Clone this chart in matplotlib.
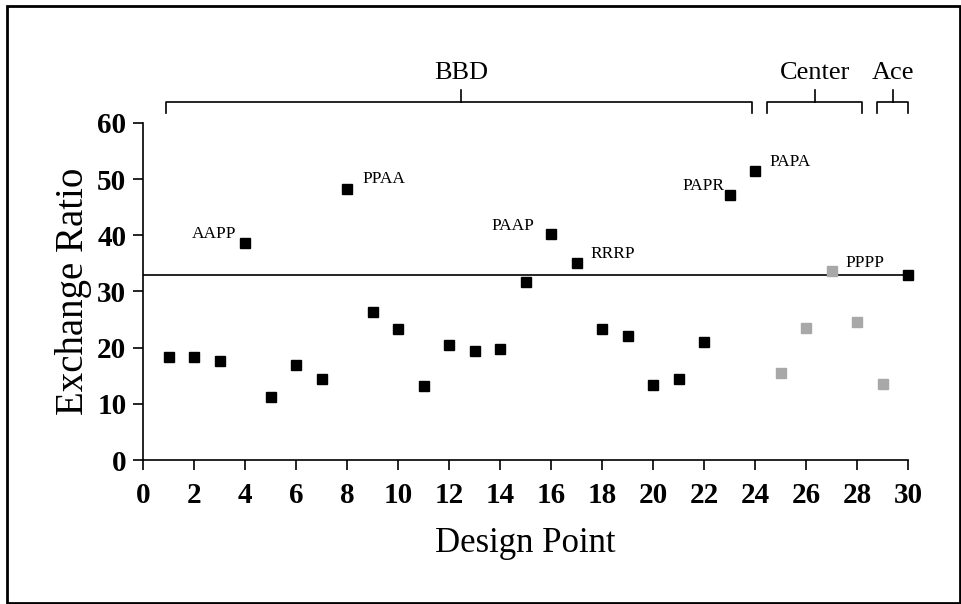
import numpy as np
import matplotlib.pyplot as plt
from matplotlib.patches import Rectangle

plt.rcParams["font.family"] = ["Liberation Serif", "DejaVu Serif"]

# design points and exchange ratios
design_point = np.arange(1, 31)
exchange_ratio = [18.4, 18.3, 17.6, 38.6, 11.3, 16.9, 14.5, 48.3, 26.4, 23.4,
                  13.2, 20.5, 19.4, 19.8, 31.7, 40.2, 35.0, 23.3, 22.1, 13.3,
                  14.4, 21.0, 47.2, 51.4, 15.5, 23.5, 33.7, 24.6, 13.5, 32.9]
# center points (25-29) drawn in gray
gray_points = [25, 26, 27, 28, 29]
ref_value = 33.0

# labelled points: (design point, label, dx px, dy px, ha)
labels = [
    (4, "AAPP", -9, 9, "right"),
    (8, "PPAA", 15, 10, "left"),
    (16, "PAAP", -17, 8, "right"),
    (17, "RRRP", 14, 9, "left"),
    (23, "PAPR", -5, 9, "right"),
    (24, "PAPA", 14, 9, "left"),
    (27, "PPPP", 14, 8, "left"),
]

# group brackets: (label, x start, x end, x of center tick)
groups = [
    ("BBD", 0.9, 23.9, 12.46),
    ("Center", 24.47, 28.2, 26.35),
    ("Ace", 28.78, 30.0, 29.41),
]

df_x = np.array(design_point)
df_y = np.array(exchange_ratio)
is_gray = np.isin(df_x, gray_points)

fig = plt.figure(figsize=(9.62, 6.04), dpi=100)
ax = fig.add_axes([0.1487, 0.2384, 0.7952, 0.558])

ax.plot([0, 30], [ref_value, ref_value], color="black", lw=1.2, zorder=1)
ax.plot(df_x[~is_gray], df_y[~is_gray], "s", color="black", ms=7.8,
        zorder=3, clip_on=False)
ax.plot(df_x[is_gray], df_y[is_gray], "s", color="#a8a8a8", ms=6.5,
        zorder=3, clip_on=False)

for dp, txt, dx, dy, ha in labels:
    ax.annotate(txt, (dp, exchange_ratio[dp - 1]), xytext=(dx, dy),
                textcoords="offset pixels", ha=ha, va="center", fontsize=12.5)

# brackets above the plot
for name, x0, x1, xc in groups:
    ax.plot([x0, x0, x1, x1], [61.7, 63.8, 63.8, 61.7], color="black",
            lw=1.2, clip_on=False)
    ax.plot([xc, xc], [63.8, 65.8], color="black", lw=1.2, clip_on=False)
    ax.text(xc, 67.8, name, ha="center", va="baseline", fontsize=19)

ax.set_xlim(0, 30)
ax.set_ylim(0, 60)
ax.set_xticks(np.arange(0, 31, 2))
ax.set_yticks(np.arange(0, 61, 10))
ax.tick_params(axis="both", labelsize=21, length=7, width=1.2, direction="out")
ax.tick_params(axis="x", pad=9)
ax.tick_params(axis="y", pad=5)
for lab in ax.get_xticklabels() + ax.get_yticklabels():
    lab.set_fontweight("bold")
ax.spines["top"].set_visible(False)
ax.spines["right"].set_visible(False)
ax.spines["left"].set_linewidth(1.2)
ax.spines["bottom"].set_linewidth(1.2)

ax.set_xlabel("Design Point", fontsize=25, labelpad=13)
ax.set_ylabel("Exchange Ratio", fontsize=28, labelpad=4)

fig.patches.append(Rectangle((7 / 962, 1 / 604), 953 / 962, 597 / 604,
                             transform=fig.transFigure, fill=False,
                             edgecolor="black", lw=2))

fig.savefig("out.png", dpi=100)
